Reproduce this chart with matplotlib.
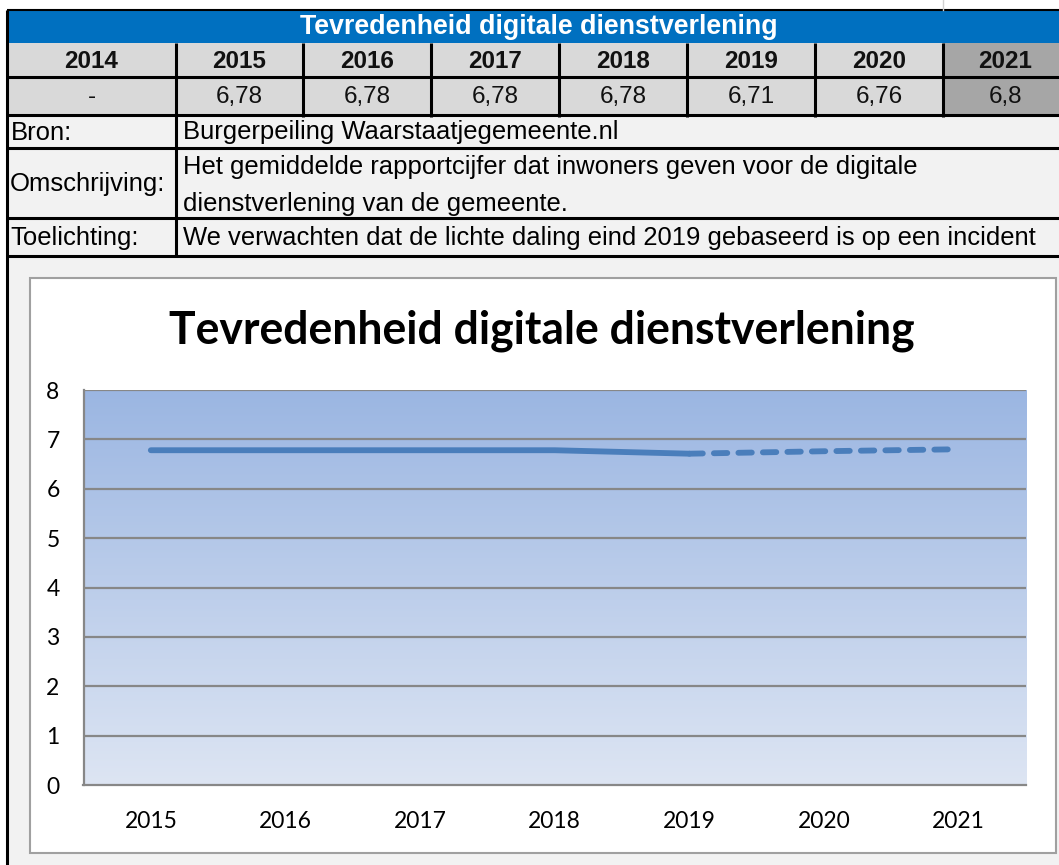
import numpy as np
import matplotlib
matplotlib.use("Agg")
import matplotlib.pyplot as plt
from matplotlib.patches import Rectangle
from matplotlib.colors import LinearSegmentedColormap

# ---------------- data ----------------
table_title = "Tevredenheid digitale dienstverlening"
table_years = ["2014", "2015", "2016", "2017", "2018", "2019", "2020", "2021"]
table_values = ["-", "6,78", "6,78", "6,78", "6,78", "6,71", "6,76", "6,8"]
bron_label = "Bron:"
bron_text = "Burgerpeiling Waarstaatjegemeente.nl"
omschr_label = "Omschrijving:"
omschr_lines = ["Het gemiddelde rapportcijfer dat inwoners geven voor de digitale",
                "dienstverlening van de gemeente."]
toel_label = "Toelichting:"
toel_text = "We verwachten dat de lichte daling eind 2019 gebaseerd is op een incident"

chart_title = "Tevredenheid digitale dienstverlening"
chart_years = ["2015", "2016", "2017", "2018", "2019", "2020", "2021"]
actual_values = [6.78, 6.78, 6.78, 6.78, 6.71]          # 2015-2019 (solid)
forecast_values = [6.71, 6.76, 6.8]                     # 2019-2021 (dashed)
y_ticks = [0, 1, 2, 3, 4, 5, 6, 7, 8]

# ---------------- figure ----------------
W, H = 1059, 865
fig = plt.figure(figsize=(W / 100, H / 100), dpi=100)
fig.patch.set_facecolor("white")
bg = fig.add_axes([0, 0, 1, 1])
bg.set_xlim(0, W)
bg.set_ylim(H, 0)
bg.axis("off")
renderer = fig.canvas.get_renderer()

def fit(t, target):
    fs = t.get_fontsize()
    for _ in range(3):
        w = t.get_window_extent(renderer).width
        fs = fs * target / w
        t.set_fontsize(fs)
    return fs

ARIAL = "Liberation Sans"
CAL = "Lato"
BLUE = "#0070C0"
GRAY = "#D9D9D9"
DARK = "#A6A6A6"
LIGHT = "#F2F2F2"

cols = [7, 176, 303, 431, 559, 687, 815, 943, W]
r_top, r_blue, r_year, r_val, r_bron, r_oms, r_toel = 10, 43, 77, 115, 148, 218, 256

def rect(x0, y0, x1, y1, fc, ec="none", lw=0, z=1):
    bg.add_patch(Rectangle((x0, y0), x1 - x0, y1 - y0, facecolor=fc, edgecolor=ec, linewidth=lw, zorder=z))

# backgrounds
rect(7, r_top, W, r_blue, BLUE)
rect(7, r_blue, W, r_val, GRAY)
rect(cols[7], r_blue, W, r_val, DARK)
rect(7, r_val, W, H, LIGHT)

def hline(y, x0=7, x1=W, lw=2.2, c="black"):
    bg.plot([x0, x1], [y, y], color=c, lw=lw, solid_capstyle="butt", zorder=5)

def vline(x, y0, y1, lw=2.2, c="black"):
    bg.plot([x, x], [y0, y1], color=c, lw=lw, solid_capstyle="butt", zorder=5)

hline(r_top, lw=1.5)
hline(r_year)
hline(r_val)
hline(r_bron)
hline(r_oms)
hline(r_toel)
vline(7, r_top, H)
vline(cols[1], r_blue, r_toel)
for xx in cols[2:8]:
    vline(xx, r_blue, r_val + 2)
bg.plot([cols[7], cols[7]], [0, r_top], color="#D0D0D0", lw=1, zorder=5)

# table texts
t = bg.text(539, (r_top + r_blue) / 2 + 1, table_title, color="white", fontweight="bold",
            family=ARIAL, fontsize=14, ha="center", va="center", zorder=6)
fit(t, 478)
yt = bg.text(0, 0, "2014", family=ARIAL, fontweight="bold", fontsize=15)
yfs = fit(yt, 54)
yt.remove()
for i, (yr, v) in enumerate(zip(table_years, table_values)):
    cx = (cols[i] + cols[i + 1]) / 2 if i < 7 else (cols[7] + 1059 + 8) / 2
    bg.text(cx, (r_blue + r_year) / 2 + 1, yr, family=ARIAL, fontweight="bold", fontsize=yfs,
            ha="center", va="center", color="#111111", zorder=6)
    bg.text(cx, (r_year + r_val) / 2 + 1, v, family=ARIAL, fontsize=yfs,
            ha="center", va="center", color="#111111", zorder=6)

tt = bg.text(183, (r_oms + r_toel) / 2 + 1, toel_text, family=ARIAL, fontsize=15,
             ha="left", va="center", zorder=6)
bfs = fit(tt, 855)
bg.text(183, (r_val + r_bron) / 2 + 1, bron_text, family=ARIAL, fontsize=bfs,
        ha="left", va="center", zorder=6)
bg.text(11, (r_val + r_bron) / 2 + 1, bron_label, family=ARIAL, fontsize=bfs, ha="left", va="center", zorder=6)
bg.text(10, (r_bron + r_oms) / 2 + 1, omschr_label, family=ARIAL, fontsize=bfs, ha="left", va="center", zorder=6)
bg.text(183, 167, omschr_lines[0], family=ARIAL, fontsize=bfs, ha="left", va="center", zorder=6)
bg.text(183, 204, omschr_lines[1], family=ARIAL, fontsize=bfs, ha="left", va="center", zorder=6)
bg.text(10, (r_oms + r_toel) / 2 + 1, toel_label, family=ARIAL, fontsize=bfs, ha="left", va="center", zorder=6)

# chart box
rect(30, 278, 1056, 853, "white", ec="#A0A0A0", lw=1.5, z=2)
ct = bg.text(542, 331, chart_title, family=CAL, fontweight="bold", fontsize=26,
             ha="center", va="center", zorder=6)
fit(ct, 747)

# ---------------- chart axes ----------------
px0, px1, py0, py1 = 83.5, 1026, 390, 785
ax = fig.add_axes([px0 / W, 1 - py1 / H, (px1 - px0) / W, (py1 - py0) / H])
ax.set_zorder(3)
ax.patch.set_alpha(0)
x = np.arange(len(chart_years))
ax.set_xlim(-0.5, len(chart_years) - 0.5)
ax.set_ylim(0, 8)

cmap = LinearSegmentedColormap.from_list("g", ["#DDE5F3", "#9BB6E2"])
grad = np.linspace(0, 1, 256).reshape(-1, 1)
ax.imshow(grad, cmap=cmap, origin="lower", aspect="auto",
          extent=[-0.5, len(chart_years) - 0.5, 0, 8], zorder=0)

for yv in y_ticks[1:]:
    ax.axhline(yv, color="#878787", lw=1.6, zorder=1)

lc = "#4A7EBB"
ax.plot(x[:len(actual_values)], actual_values, color=lc, lw=4.2,
        solid_capstyle="round", solid_joinstyle="round", zorder=4)
ax.plot(x[len(actual_values) - 1:], forecast_values, color=lc, lw=4.2,
        linestyle=(0, (2.3, 1.9)), dash_capstyle="round", zorder=4)

for s in ["top", "right"]:
    ax.spines[s].set_visible(False)
ax.spines["left"].set_color("#878787")
ax.spines["bottom"].set_color("#878787")
ax.spines["left"].set_linewidth(1.6)
ax.spines["bottom"].set_linewidth(1.6)

ax.set_xticks(x)
ax.set_xticklabels(chart_years)
ax.set_yticks(y_ticks)
ax.tick_params(length=0)
tfs = 16.5
ax.tick_params(axis="x", pad=19, labelsize=tfs)
ax.tick_params(axis="y", pad=22, labelsize=tfs)
for lab in ax.get_xticklabels() + ax.get_yticklabels():
    lab.set_family(CAL)
for lab in ax.get_yticklabels():
    lab.set_horizontalalignment("center")

fig.savefig("out.png", dpi=100)
